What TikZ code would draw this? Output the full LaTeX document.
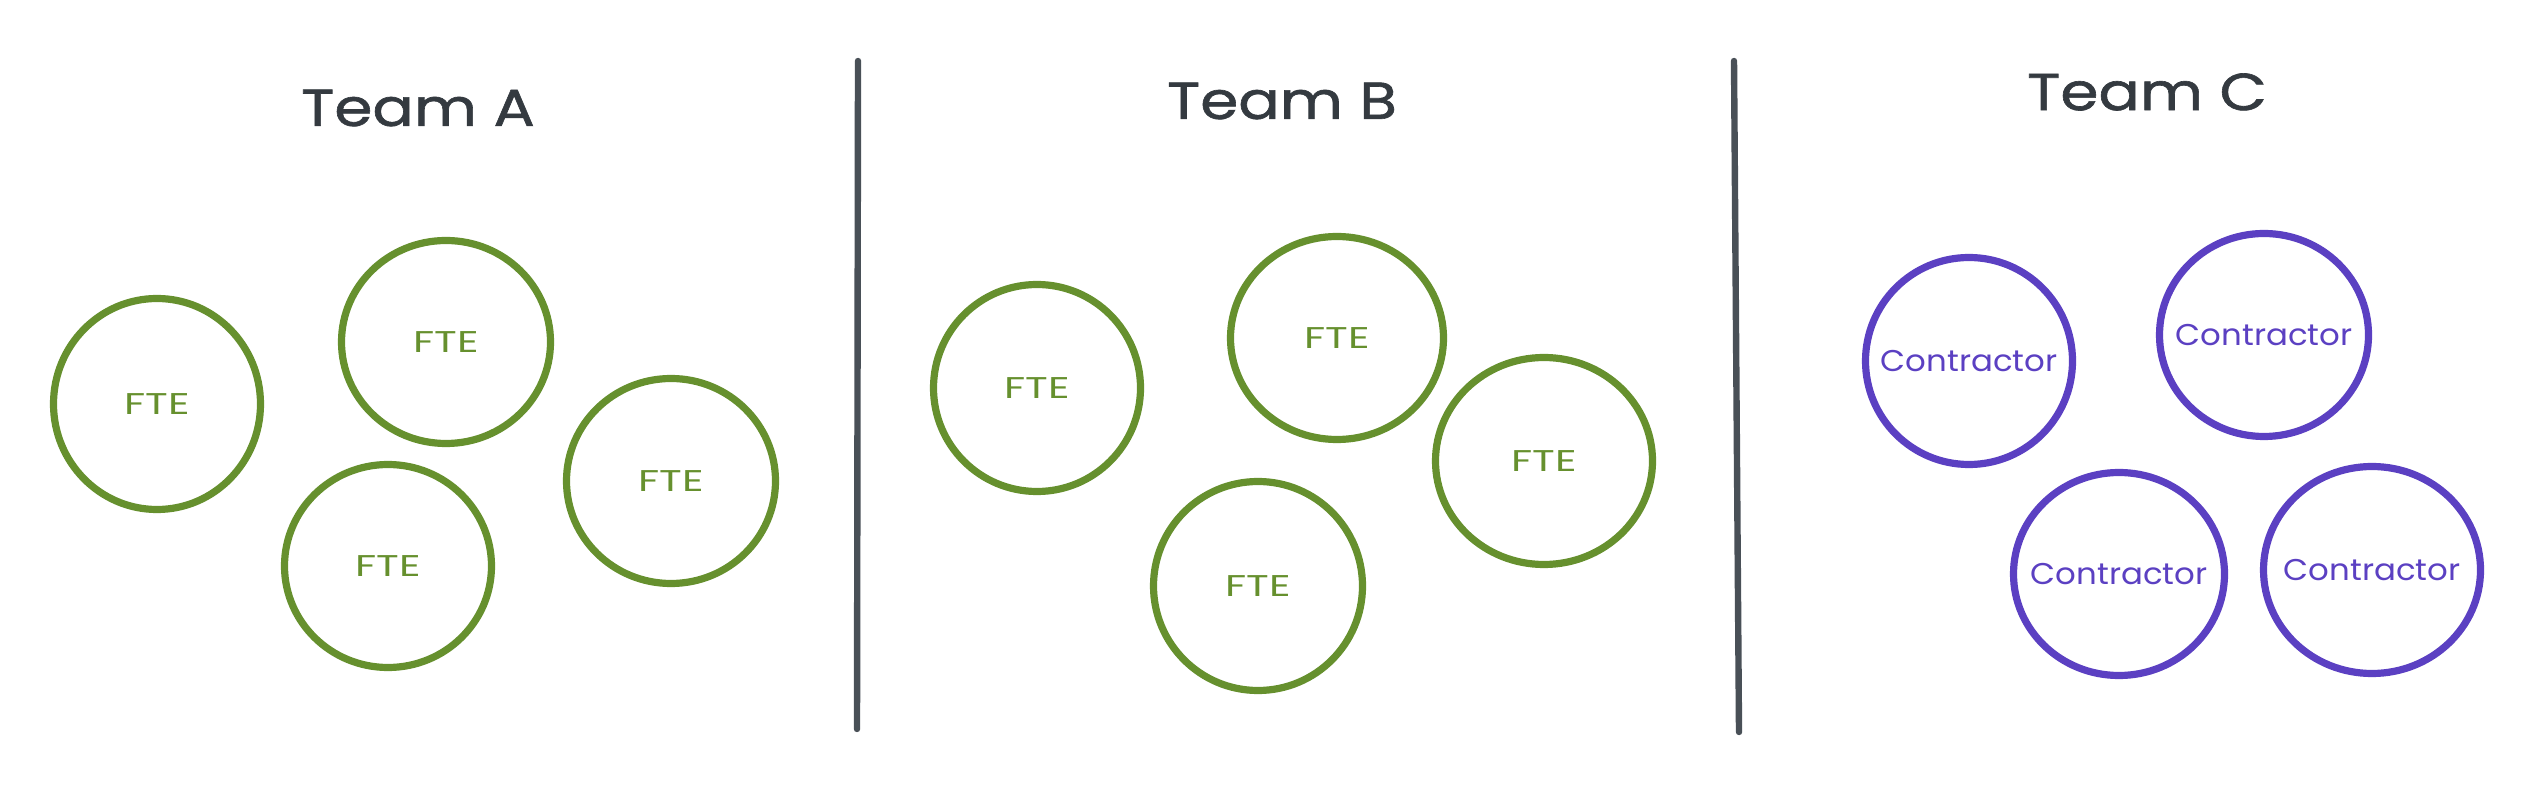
\documentclass[tikz,border=0pt]{standalone}
\usepackage{fontspec}
\setmainfont{Poppins}
\newfontfamily\titlefont{Poppins}[FakeStretch=1.18, FakeBold=1.2]
\newfontfamily\ftefont{Poppins}[FakeStretch=1.4]
\newfontfamily\confont{Poppins}[FakeStretch=1.08]
\usetikzlibrary{shapes.geometric}
\definecolor{fte}{HTML}{66902E}
\definecolor{contr}{HTML}{5B40C2}
\definecolor{titlec}{HTML}{343A40}
\definecolor{divc}{HTML}{495057}
\tikzset{
  member/.style={ellipse, draw, line width=3.6pt, inner sep=0pt},
  ftebox/.style={member, draw=fte, text=fte, font=\ftefont\fontsize{15}{18}\selectfont},
  conbox/.style={member, draw=contr, text=contr, font=\confont\fontsize{15}{18}\selectfont},
  teamtitle/.style={text=titlec, font=\titlefont\fontsize{26}{30}\selectfont},
  divider/.style={draw=divc, line width=3.2pt, line cap=round}
}
\begin{document}
\begin{tikzpicture}[x=0.5pt, y=-0.5pt]
\useasboundingbox (0,0) rectangle (2522,806);
% titles
\node[teamtitle] (tA) at (418,108) {Team A};
\node[teamtitle] (tB) at (1282,101) {Team B};
\node[teamtitle] (tC) at (2147,92) {Team C};
% dividers
\coordinate (d1t) at (858,61);
\coordinate (d1b) at (857,729);
\coordinate (d2t) at (1734,61);
\coordinate (d2b) at (1739,732);
\draw[divider] (d1t) -- (d1b);
\draw[divider] (d2t) -- (d2b);
% Team A
\node[ftebox, minimum width=103.5pt, minimum height=105.5pt] (a1) at (157,404) {FTE};
\node[ftebox, minimum width=104.5pt, minimum height=101.5pt] (a2) at (446,342) {FTE};
\node[ftebox, minimum width=103.5pt, minimum height=101.5pt] (a3) at (388,566) {FTE};
\node[ftebox, minimum width=104.5pt, minimum height=102.5pt] (a4) at (671,481) {FTE};
% Team B
\node[ftebox, minimum width=103.5pt, minimum height=103.5pt] (b1) at (1037,388) {FTE};
\node[ftebox, minimum width=106.5pt, minimum height=101.5pt] (b2) at (1337,338) {FTE};
\node[ftebox, minimum width=104.5pt, minimum height=104.5pt] (b3) at (1258,586) {FTE};
\node[ftebox, minimum width=108.5pt, minimum height=103.5pt] (b4) at (1544,461) {FTE};
% Team C
\node[conbox, minimum width=103.5pt, minimum height=103.5pt] (c1) at (1969,361) {\makebox[0pt]{Contractor}};
\node[conbox, minimum width=104.5pt, minimum height=101.5pt] (c2) at (2264,335) {\makebox[0pt]{Contractor}};
\node[conbox, minimum width=105.5pt, minimum height=101.5pt] (c3) at (2119,574) {\makebox[0pt]{Contractor}};
\node[conbox, minimum width=108.5pt, minimum height=103.5pt] (c4) at (2372,570) {\makebox[0pt]{Contractor}};
\end{tikzpicture}
\end{document}
